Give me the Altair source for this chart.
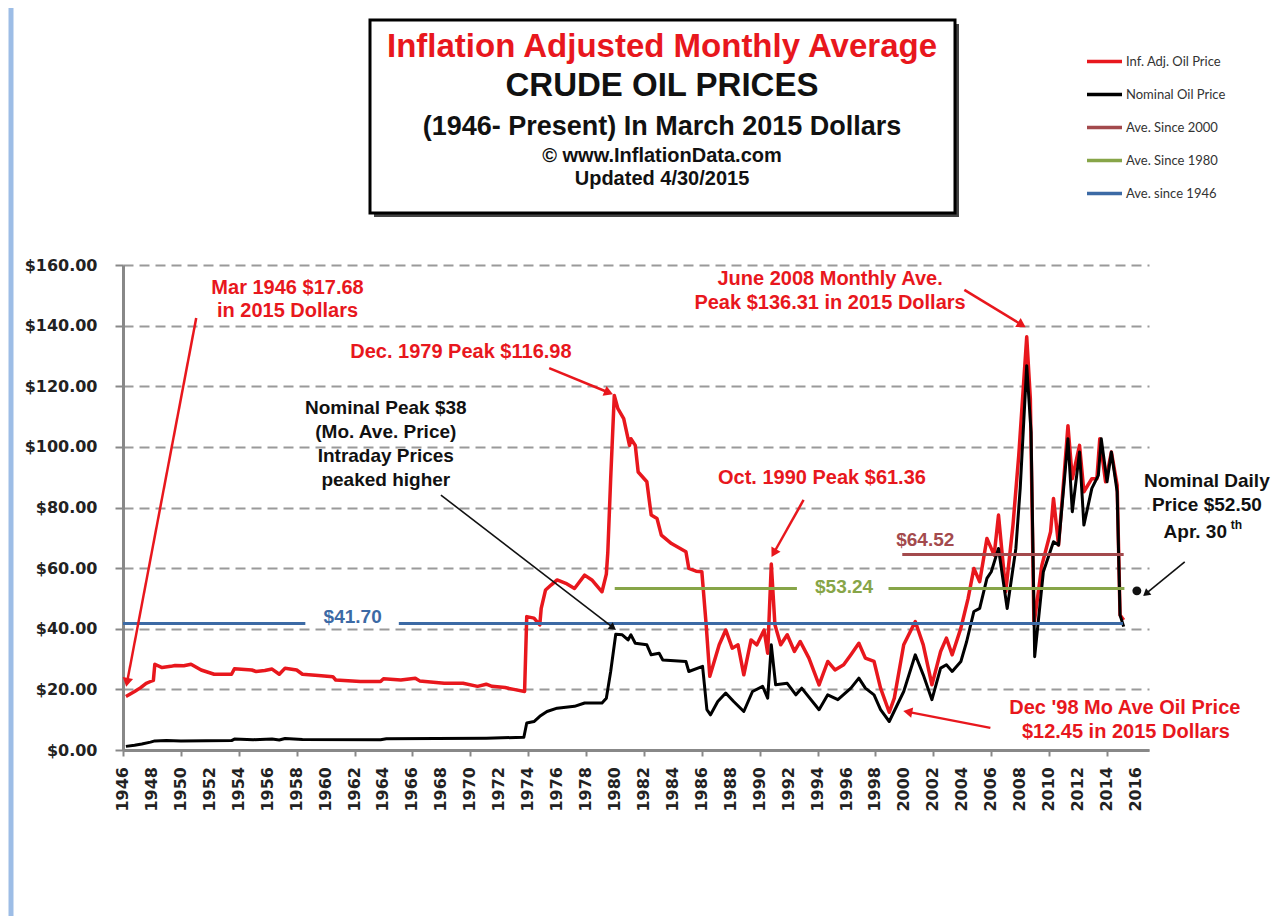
import math
import altair as alt
import pandas as pd

# ---------------- data ----------------
red_years = [1946.2, 1946.5, 1946.8, 1947.2, 1947.6, 1947.9, 1948.1, 1948.2, 1948.7, 1949.3,
             1949.6, 1950.2, 1950.7, 1951.4, 1952.3, 1953.5, 1953.7, 1954.9, 1955.2, 1955.8,
             1956.3, 1956.8, 1957.2, 1958.0, 1958.4, 1959.5, 1960.5, 1960.7, 1962.4, 1963.8,
             1964.0, 1965.2, 1966.2, 1966.5, 1968.2, 1969.5, 1970.5, 1971.1, 1971.5, 1972.4,
             1973.0, 1973.75, 1973.9, 1974.4, 1974.8, 1974.9, 1975.2, 1975.6, 1976.0, 1976.6,
             1977.2, 1977.9, 1978.4, 1979.1, 1979.4, 1979.5, 1979.7, 1979.95, 1980.2, 1980.6,
             1981.0, 1981.1, 1981.4, 1981.6, 1982.2, 1982.5, 1982.9, 1983.2, 1983.9, 1984.9,
             1985.1, 1985.6, 1986.0, 1986.3, 1986.55, 1987.2, 1987.65, 1988.1, 1988.5, 1988.9,
             1989.4, 1989.8, 1990.3, 1990.55, 1990.8, 1991.05, 1991.45, 1991.9, 1992.4, 1992.8,
             1993.4, 1994.1, 1994.7, 1995.2, 1995.8, 1996.3, 1996.85, 1997.3, 1997.9, 1998.35,
             1998.95, 1999.3, 1999.95, 2000.75, 2001.3, 2001.9, 2002.5, 2002.9, 2003.3, 2003.9,
             2004.4, 2004.8, 2005.2, 2005.7, 2006.2, 2006.5, 2007.0, 2007.5, 2007.9, 2008.45,
             2008.7, 2008.95, 2009.5, 2010.1, 2010.3, 2010.65, 2011.0, 2011.3, 2011.6, 2012.1,
             2012.4, 2012.95, 2013.3, 2013.5, 2013.9, 2014.3, 2014.7, 2014.9, 2015.15]
red_values = [17.68, 18.5, 19.3, 20.5, 22.0, 22.6, 23.0, 28.3, 27.2, 27.6,
              27.9, 27.8, 28.3, 26.4, 25.0, 25.0, 26.8, 26.4, 25.9, 26.2,
              26.7, 25.0, 27.0, 26.4, 25.0, 24.6, 24.2, 23.1, 22.6, 22.6,
              23.5, 23.1, 23.7, 22.8, 22.0, 22.0, 21.0, 21.7, 21.0, 20.6,
              20.0, 19.3, 44.0, 43.5, 41.3, 46.7, 52.8, 54.5, 56.1, 55.0,
              53.3, 57.7, 56.1, 52.2, 58.0, 65.0, 89.5, 116.98, 112.6, 109.3,
              100.5, 102.7, 100.5, 91.7, 88.5, 77.5, 76.4, 70.9, 68.1, 65.4,
              59.9, 59.0, 58.8, 41.3, 24.3, 34.7, 39.6, 33.6, 34.7, 24.8,
              36.3, 34.7, 39.6, 31.9, 61.36, 41.3, 34.7, 38.0, 32.5, 35.8,
              30.3, 21.5, 29.2, 26.4, 28.1, 31.4, 35.2, 30.3, 29.2, 20.4,
              12.45, 17.1, 34.7, 42.4, 34.7, 21.5, 32.5, 36.9, 31.4, 40.2,
              50.0, 59.9, 55.5, 69.8, 64.3, 77.5, 52.2, 74.2, 97.2, 136.31,
              115.9, 41.3, 61.0, 72.0, 83.0, 67.6, 88.5, 107.0, 89.5, 100.5,
              85.2, 89.5, 89.5, 102.7, 88.5, 98.3, 87.3, 44.5, 42.9]

nom_years = [1946.2, 1946.8, 1947.3, 1947.9, 1948.2, 1949.0, 1950.0, 1953.5, 1953.7, 1955.0,
             1956.3, 1956.8, 1957.2, 1958.4, 1963.8, 1964.2, 1971.1, 1973.7, 1973.9, 1974.4,
             1974.8, 1975.3, 1976.0, 1977.2, 1977.9, 1979.1, 1979.4, 1979.7, 1980.05, 1980.5,
             1980.9, 1981.1, 1981.4, 1982.2, 1982.5, 1983.05, 1983.3, 1984.9, 1985.1, 1986.05,
             1986.35, 1986.6, 1987.1, 1987.65, 1988.2, 1988.9, 1989.5, 1990.2, 1990.55, 1990.8,
             1991.1, 1991.9, 1992.5, 1992.9, 1994.1, 1994.7, 1995.4, 1996.3, 1996.85, 1997.3,
             1997.9, 1998.35, 1998.95, 1999.95, 2000.75, 2001.3, 2001.9, 2002.5, 2002.9, 2003.3,
             2003.9, 2004.3, 2004.8, 2005.2, 2005.7, 2006.0, 2006.5, 2007.1, 2007.7, 2008.0,
             2008.45, 2008.75, 2009.0, 2009.6, 2010.3, 2010.65, 2011.1, 2011.3, 2011.6, 2012.1,
             2012.4, 2012.95, 2013.4, 2013.6, 2014.0, 2014.3, 2014.7, 2014.9, 2015.15]
nom_values = [1.2, 1.6, 2.0, 2.6, 3.0, 3.1, 3.0, 3.1, 3.6, 3.4,
              3.6, 3.3, 3.8, 3.5, 3.4, 3.7, 3.9, 4.2, 8.9, 9.4,
              11.1, 12.7, 13.8, 14.4, 15.5, 15.5, 17.1, 25.9, 38.2, 38.0,
              36.3, 38.0, 35.2, 34.7, 31.4, 31.9, 29.7, 29.2, 25.9, 27.6,
              13.3, 11.6, 16.0, 18.8, 16.0, 12.7, 19.3, 21.0, 17.1, 34.7,
              21.5, 22.0, 18.2, 20.4, 13.3, 18.2, 16.6, 20.4, 23.7, 20.4,
              18.2, 13.3, 9.4, 19.3, 31.4, 24.8, 16.6, 27.0, 28.1, 25.9,
              29.2, 35.8, 45.7, 46.7, 56.6, 58.8, 66.5, 46.7, 66.5, 86.3,
              126.8, 104.9, 30.8, 58.8, 68.7, 67.6, 91.7, 102.7, 78.6, 98.3,
              74.2, 86.3, 90.6, 102.7, 88.5, 98.3, 85.2, 44.5, 40.7]

series_names = ["Inf. Adj. Oil Price", "Nominal Oil Price", "Ave. Since 2000",
                "Ave. Since 1980", "Ave. since 1946"]
series_colors = ["#e8171d", "#000000", "#a34a4d", "#87a548", "#3c6aa5"]

# average lines (drawn as segments, broken where their value labels sit)
avg_series = ["Ave. Since 2000", "Ave. Since 1980", "Ave. Since 1980", "Ave. since 1946", "Ave. since 1946"]
avg_values = [64.52, 53.24, 53.24, 41.70, 41.70]
avg_start = [1999.85, 1979.98, 1998.9, 1946.0, 1965.06]
avg_end = [2015.15, 1992.57, 2015.2, 1958.6, 2015.1]

avg_label_text = ["$64.52", "$53.24", "$41.70"]
avg_label_x = [2001.44, 1995.83, 1961.87]
avg_label_y = [69.3, 53.9, 43.9]
avg_label_colors = ["#a34a4d", "#87a548", "#3c6aa5"]

x_ticks = list(range(1946, 2017))
x_labels = list(range(1946, 2017, 2))
y_ticks = [0, 20, 40, 60, 80, 100, 120, 140, 160]

# annotations (data coordinates)
red_notes = ["Mar 1946 $17.68", "in 2015 Dollars", "Dec. 1979 Peak $116.98",
             "Oct. 1990 Peak $61.36", "June 2008 Monthly Ave.", "Peak $136.31 in 2015 Dollars",
             "Dec '98 Mo Ave Oil  Price", "$12.45 in 2015 Dollars"]
red_notes_x = [1957.37, 1957.37, 1969.35, 1994.3, 1994.86, 1994.86, 2015.23, 2015.3]
red_notes_y = [152.4, 144.8, 131.3, 89.6, 155.4, 147.5, 13.9, 5.9]

black_notes = ["Nominal Peak $38", "(Mo. Ave. Price)", "Intraday Prices", "peaked higher",
               "Nominal Daily", "Price $52.50", "Apr. 30"]
black_notes_x = [1964.16, 1964.16, 1964.16, 1964.16, 2020.9, 2020.9, 2020.1]
black_notes_y = [112.8, 104.9, 97.0, 89.1, 88.7, 80.8, 71.8]

# arrows: tail -> head
arrow_colors = ["red", "red", "black", "red", "red", "black", "red"]
arrow_x1 = [1951.06, 1975.45, 1967.97, 1993.03, 2004.14, 2019.37, 2005.94]
arrow_y1 = [142.5, 126.0, 84.1, 82.5, 151.8, 62.1, 7.3]
arrow_x2 = [1946.3, 1979.47, 1979.8, 1991.02, 2008.02, 2016.75, 2000.33]
arrow_y2 = [22.8, 118.1, 40.6, 65.4, 140.5, 51.8, 12.5]

daily_year = [2016.06]
daily_price = [52.5]

# ---------------- geometry ----------------
W, H = 1026, 485
X_DOM = [1946, 2016.9]
Y_DOM = [0, 160]
px_per_year = W / (X_DOM[1] - X_DOM[0])
px_per_dollar = H / (Y_DOM[1] - Y_DOM[0])

series_df = pd.concat([
    pd.DataFrame({"year": red_years, "price": red_values, "series": series_names[0]}),
    pd.DataFrame({"year": nom_years, "price": nom_values, "series": series_names[1]}),
], ignore_index=True)

avg_df = pd.DataFrame({"series": avg_series, "value": avg_values, "x1": avg_start, "x2": avg_end})

xscale = alt.Scale(domain=X_DOM, nice=False, zero=False)
yscale = alt.Scale(domain=Y_DOM, nice=False)
cscale = alt.Scale(domain=series_names, range=series_colors)

legend = alt.Legend(orient="none", legendX=962, legendY=-223, title=None,
                    symbolType="stroke", symbolStrokeWidth=3.5, symbolSize=1225,
                    labelFont="Lato", labelFontSize=13, labelColor="#333",
                    rowPadding=6, labelOffset=2)

x_axis = alt.Axis(values=x_ticks, labels=False,
                  tickSize=6, tickColor="#888", tickWidth=2,
                  domainColor="#888", domainWidth=3, grid=False, title=None)
y_axis = alt.Axis(values=y_ticks, format="$.2f",
                  labelFont="DejaVu Sans", labelFontSize=16, labelFontWeight="bold",
                  labelColor="#222", labelPadding=18,
                  tickSize=8, tickColor="#888", tickWidth=2,
                  domainColor="#888", domainWidth=3,
                  grid=True, gridDash=[10, 6], gridColor="#9a9a9a", gridWidth=2, title=None)

red_df = series_df[series_df["series"] == series_names[0]]
black_df = series_df[series_df["series"] == series_names[1]]

red_line = alt.Chart(red_df).mark_line(strokeWidth=3.5, strokeJoin="round").encode(
    x=alt.X("year:Q", scale=xscale, axis=x_axis),
    y=alt.Y("price:Q", scale=yscale, axis=y_axis),
    color=alt.Color("series:N", scale=cscale, legend=legend),
)
black_line = alt.Chart(black_df).mark_line(strokeWidth=3, strokeJoin="round").encode(
    x=alt.X("year:Q", scale=xscale),
    y=alt.Y("price:Q", scale=yscale),
    color=alt.Color("series:N", scale=cscale, legend=legend),
)

avgs = alt.Chart(avg_df).mark_rule(strokeWidth=3).encode(
    x=alt.X("x1:Q", scale=xscale),
    x2="x2:Q",
    y=alt.Y("value:Q", scale=yscale),
    color=alt.Color("series:N", scale=cscale, legend=legend),
)

layers = [red_line, black_line, avgs]

# x axis year labels (every second year), rotated
xl = pd.DataFrame({"year": x_labels, "t": [str(v) for v in x_labels]})
layers.append(alt.Chart(xl).mark_text(font="DejaVu Sans", fontWeight="bold", fontSize=16,
                                      color="#222", angle=270, align="right",
                                      baseline="middle").encode(
    x=alt.X("year:Q", scale=xscale), y=alt.value(H + 17), text="t:N"))

# average labels
for t, xv, yv, c in zip(avg_label_text, avg_label_x, avg_label_y, avg_label_colors):
    d = pd.DataFrame({"x": [xv], "y": [yv], "t": [t]})
    layers.append(alt.Chart(d).mark_text(font="Liberation Sans", fontWeight="bold", fontSize=19,
                                         color=c, align="center", baseline="middle").encode(
        x=alt.X("x:Q", scale=xscale), y=alt.Y("y:Q", scale=yscale), text="t:N"))

# annotation texts
rn = pd.DataFrame({"x": red_notes_x, "y": red_notes_y, "t": red_notes})
layers.append(alt.Chart(rn).mark_text(font="Liberation Sans", fontWeight="bold", fontSize=20,
                                      color="#e8171d", align="center", baseline="middle").encode(
    x=alt.X("x:Q", scale=xscale), y=alt.Y("y:Q", scale=yscale), text="t:N"))
bn = pd.DataFrame({"x": black_notes_x, "y": black_notes_y, "t": black_notes})
layers.append(alt.Chart(bn).mark_text(font="Liberation Sans", fontWeight="bold", fontSize=19,
                                      color="#111", align="center", baseline="middle").encode(
    x=alt.X("x:Q", scale=xscale), y=alt.Y("y:Q", scale=yscale), text="t:N"))
sup = pd.DataFrame({"x": [2022.55], "y": [74.2], "t": ["th"]})
layers.append(alt.Chart(sup).mark_text(font="Liberation Sans", fontWeight="bold", fontSize=12,
                                       color="#111", align="left", baseline="middle").encode(
    x=alt.X("x:Q", scale=xscale), y=alt.Y("y:Q", scale=yscale), text="t:N"))

# arrows
angles = []
for x1, y1, x2, y2 in zip(arrow_x1, arrow_y1, arrow_x2, arrow_y2):
    dx = (x2 - x1) * px_per_year
    dy = -(y2 - y1) * px_per_dollar
    angles.append(math.degrees(math.atan2(dx, -dy)) % 360)
arr_df = pd.DataFrame({"x1": arrow_x1, "y1": arrow_y1, "x2": arrow_x2, "y2": arrow_y2,
                       "ang": angles, "c": arrow_colors})
for cname, col, sw, sz in [("red", "#e8171d", 2.5, 110), ("black", "#111", 1.6, 70)]:
    sub = arr_df[arr_df["c"] == cname]
    layers.append(alt.Chart(sub).mark_rule(color=col, strokeWidth=sw).encode(
        x=alt.X("x1:Q", scale=xscale), y=alt.Y("y1:Q", scale=yscale), x2="x2:Q", y2="y2:Q"))
    layers.append(alt.Chart(sub).mark_point(shape="triangle", filled=True, color=col, size=sz,
                                            opacity=1).encode(
        x=alt.X("x2:Q", scale=xscale), y=alt.Y("y2:Q", scale=yscale),
        angle=alt.Angle("ang:Q", scale=None)))

# nominal daily dot
dot = pd.DataFrame({"x": daily_year, "y": daily_price})
layers.append(alt.Chart(dot).mark_point(shape="circle", filled=True, color="#111", size=80,
                                        opacity=1).encode(
    x=alt.X("x:Q", scale=xscale), y=alt.Y("y:Q", scale=yscale)))

# decorations: left bar, title box
one = pd.DataFrame({"a": [0]})
layers.append(alt.Chart(one).mark_rule(color="#9dbde6", strokeWidth=5).encode(
    x=alt.value(-112), y=alt.value(-265), y2=alt.value(660)))
layers.append(alt.Chart(one).mark_rect(color="#444").encode(
    x=alt.value(251), x2=alt.value(836), y=alt.value(-241), y2=alt.value(-48)))
layers.append(alt.Chart(one).mark_rect(fill="white", stroke="black", strokeWidth=3).encode(
    x=alt.value(247), x2=alt.value(832), y=alt.value(-245), y2=alt.value(-52)))

title_lines = ["Inflation Adjusted Monthly Average", "CRUDE OIL PRICES",
               "(1946- Present) In March 2015 Dollars", "\u00a9 www.InflationData.com",
               "Updated 4/30/2015"]
title_y = [-218, -179, -138, -109, -86]
title_sizes = [33, 33, 27, 20, 20]
title_colors = ["#e8171d", "#111", "#111", "#111", "#111"]
for t, yv, s, c in zip(title_lines, title_y, title_sizes, title_colors):
    layers.append(alt.Chart(one).mark_text(text=t, font="Liberation Sans", fontWeight="bold",
                                           fontSize=s, color=c, align="center",
                                           baseline="middle").encode(
        x=alt.value(539), y=alt.value(yv)))

chart = alt.layer(*layers).properties(
    width=W, height=H,
    padding={"left": 115, "top": 257, "right": 129, "bottom": 166},
    autosize=alt.AutoSizeParams(type="none"),
    background="white",
).configure_view(stroke=None)

chart.save("out.html", embed_options={"renderer": "svg", "actions": False})
